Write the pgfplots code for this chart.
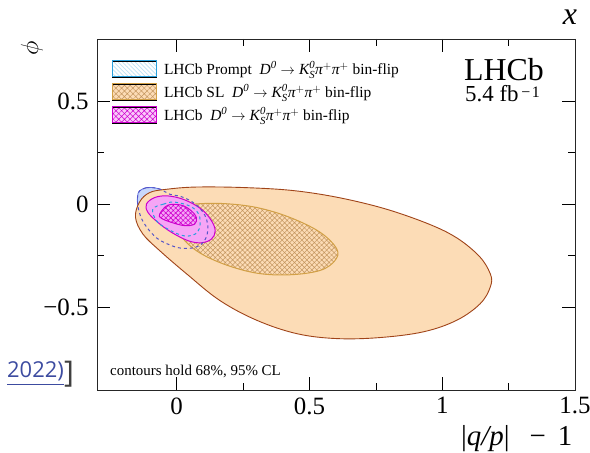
\documentclass[border=0pt]{standalone}
\usepackage{pgfplots}
\pgfplotsset{compat=1.18}
\usepackage{amsmath}
\usepackage{fontspec}
\setmainfont{Liberation Serif}
\newfontfamily\sansf{Open Sans}
\usetikzlibrary{patterns.meta}
\definecolor{peach}{RGB}{252,220,182}
\definecolor{brownb}{RGB}{160,68,25}
\definecolor{gold}{RGB}{210,160,70}
\definecolor{tanh}{RGB}{196,150,95}
\definecolor{pinkf}{RGB}{246,165,246}
\definecolor{magb}{RGB}{205,0,205}
\definecolor{bluef}{RGB}{200,215,250}
\definecolor{blueb}{RGB}{90,110,220}
\definecolor{dblue}{RGB}{85,85,200}
\definecolor{cyand}{RGB}{40,160,220}
\definecolor{linkblue}{RGB}{60,75,160}
\newcommand{\decay}{$\textit{D}^{\textit{0}}\rightarrow\textit{K}^{\textit{0}}_{\textit{S}}\textit{π}^{+}\textit{π}^{+}$}
\begin{document}
\begin{tikzpicture}
\useasboundingbox (0,0) rectangle (590bp,453bp);
\begin{axis}[
  at={(97bp,63bp)}, anchor=south west,
  scale only axis, width=478bp, height=351bp,
  xmin=-0.3, xmax=1.5, ymin=-0.9, ymax=0.8,
  xtick={0,0.5,1,1.5}, xticklabels={0,0.5,1,1.5},
  ytick={-0.5,0,0.5}, yticklabels={−0.5,0,0.5},
  minor tick num=1,
  tick align=inside,
  major tick length=13bp, minor tick length=7bp,
  tick style={black, line width=0.6bp},
  axis line style={black!85, line width=0.8bp},
  ticklabel style={font=\rmfamily\fontsize{25}{25}\selectfont},
  xticklabel style={yshift=-4bp},
  yticklabel style={xshift=-5bp},
  legend style={at={(0.031,0.942)}, anchor=north west, draw=none, fill=none,
    font=\fontsize{15.5}{16}\selectfont, row sep=4.5bp, inner sep=0pt,
    cells={anchor=west}},
]
\addlegendimage{legend image code/.code={
  \fill[white] (0bp,-8bp) rectangle (44bp,8bp);
  \fill[pattern={Lines[angle=-45,distance=3bp,line width=0.7bp]}, pattern color=cyand!30] (0bp,-8bp) rectangle (44bp,8bp);
  \draw[cyand, line width=1bp] (0bp,-8bp) rectangle (44bp,8bp);}}
\addlegendentry{\hspace{5bp}LHCb Prompt~~\decay{} bin-flip}
\addlegendimage{legend image code/.code={
  \fill[peach] (0bp,-8bp) rectangle (44bp,8bp);
  \fill[pattern={Hatch[angle=45,distance=4bp,line width=0.5bp]}, pattern color=tanh] (0bp,-8bp) rectangle (44bp,8bp);
  \draw[gold, line width=1bp] (0bp,-8bp) rectangle (44bp,8bp);}}
\addlegendentry{\hspace{5bp}LHCb SL~~\decay{} bin-flip}
\addlegendimage{legend image code/.code={
  \fill[pinkf!60] (0bp,-8bp) rectangle (44bp,8bp);
  \fill[pattern={Hatch[angle=45,distance=4bp,line width=0.5bp]}, pattern color=magb] (0bp,-8bp) rectangle (44bp,8bp);
  \draw[magb, line width=1bp] (0bp,-8bp) rectangle (44bp,8bp);}}
\addlegendentry{\hspace{5bp}LHCb~~\decay{} bin-flip}

% Prompt 95% filled
\addplot[forget plot, smooth cycle, tension=0.6, fill=bluef, draw=blueb, line width=0.8bp] coordinates {
(-0.140,0.064) (-0.114,0.080) (-0.083,0.079) (-0.057,0.070) (-0.026,0.048) (0.011,0.039) (0.049,0.019) (0.083,-0.015) (0.106,-0.053) (0.117,-0.101) (0.113,-0.155) (0.094,-0.193) (0.060,-0.212) (0.011,-0.212) (-0.034,-0.193) (-0.075,-0.164) (-0.113,-0.111) (-0.136,-0.058) (-0.147,0.000) (-0.147,0.039)};
% SL 95%
\addplot[forget plot, smooth cycle, tension=0.6, fill=peach, draw=brownb, line width=0.9bp] coordinates {
(-0.155,-0.064) (-0.140,0.010) (-0.102,0.056) (-0.039,0.072) (0.074,0.083) (0.263,0.080) (0.452,0.064) (0.640,0.024) (0.829,-0.040) (1.018,-0.136) (1.131,-0.241) (1.181,-0.337) (1.181,-0.401) (1.143,-0.482) (1.055,-0.562) (0.930,-0.618) (0.766,-0.646) (0.603,-0.651) (0.452,-0.627) (0.301,-0.562) (0.162,-0.466) (0.037,-0.337) (-0.064,-0.225) (-0.127,-0.145)};
% SL 68%
\addplot[forget plot, smooth cycle, tension=0.6, draw=none, pattern={Hatch[angle=45,distance=3.5bp,line width=0.5bp]}, pattern color=tanh] coordinates {
(0.011,-0.016) (0.062,0.000) (0.175,0.003) (0.301,-0.016) (0.426,-0.064) (0.540,-0.136) (0.603,-0.217) (0.596,-0.273) (0.540,-0.321) (0.426,-0.342) (0.301,-0.334) (0.175,-0.289) (0.074,-0.225) (0.011,-0.145) (-0.014,-0.064)};
\addplot[forget plot, smooth cycle, tension=0.6, draw=gold, line width=1bp] coordinates {
(0.011,-0.016) (0.062,0.000) (0.175,0.003) (0.301,-0.016) (0.426,-0.064) (0.540,-0.136) (0.603,-0.217) (0.596,-0.273) (0.540,-0.321) (0.426,-0.342) (0.301,-0.334) (0.175,-0.289) (0.074,-0.225) (0.011,-0.145) (-0.014,-0.064)};
% Combined 95%
\addplot[forget plot, smooth cycle, tension=0.6, fill=pinkf, draw=magb, line width=1bp] coordinates {
(-0.114,0.000) (-0.083,0.032) (-0.033,0.040) (0.030,0.021) (0.093,-0.024) (0.131,-0.080) (0.145,-0.130) (0.131,-0.169) (0.093,-0.187) (0.043,-0.177) (-0.020,-0.136) (-0.071,-0.088) (-0.108,-0.040)};
% Combined 68%
\addplot[forget plot, smooth cycle, tension=0.6, draw=none, pattern={Hatch[angle=45,distance=3.5bp,line width=0.6bp]}, pattern color=magb] coordinates {
(-0.064,-0.048) (-0.033,-0.005) (0.018,-0.005) (0.055,-0.032) (0.074,-0.064) (0.068,-0.096) (0.030,-0.104) (-0.020,-0.088) (-0.058,-0.068)};
\addplot[forget plot, smooth cycle, tension=0.6, draw=magb, line width=1bp] coordinates {
(-0.064,-0.048) (-0.033,-0.005) (0.018,-0.005) (0.055,-0.032) (0.074,-0.064) (0.068,-0.096) (0.030,-0.104) (-0.020,-0.088) (-0.058,-0.068)};
% Prompt contours dashed on top
\addplot[forget plot, smooth cycle, tension=0.6, draw=dblue, line width=1bp, dash pattern=on 3bp off 3bp] coordinates {
(-0.140,0.064) (-0.114,0.080) (-0.083,0.079) (-0.057,0.070) (-0.026,0.048) (0.011,0.039) (0.049,0.019) (0.083,-0.015) (0.106,-0.053) (0.117,-0.101) (0.113,-0.155) (0.094,-0.193) (0.060,-0.212) (0.011,-0.212) (-0.034,-0.193) (-0.075,-0.164) (-0.113,-0.111) (-0.136,-0.058) (-0.147,0.000) (-0.147,0.039)};
\addplot[forget plot, smooth cycle, tension=0.6, draw=cyand, line width=1bp, dash pattern=on 3bp off 3bp] coordinates {
(-0.090,-0.024) (-0.050,0.000) (-0.008,0.010) (0.057,-0.014) (0.087,-0.063) (0.079,-0.135) (0.030,-0.154) (-0.034,-0.120) (-0.075,-0.082)};
\end{axis}
\node[anchor=base west, font=\fontsize{32}{32}\selectfont, inner sep=0pt] at (464bp,372bp) {LHCb};
\node[anchor=base west, font=\fontsize{23}{23}\selectfont, inner sep=0pt] at (465bp,351bp) {5.4 fb\hspace{0.12em}\raisebox{0.18em}{\fontsize{16}{16}\selectfont −\hspace{0.1em}1}};
\node[anchor=base west, font=\fontsize{15}{15}\selectfont, inner sep=0pt] at (110bp,77bp) {contours hold 68\%, 95\% CL};
\node[rotate=90, font=\fontsize{33}{33}\selectfont, inner sep=0pt] at (32bp,404.5bp) {$\phi$};
\node[anchor=base west, font=\fontsize{29}{29}\selectfont, inner sep=0pt] at (461bp,8bp) {|\textit{q/p}|\hspace{20bp}−\hspace{12bp}1};
\node[anchor=base, font=\fontsize{32}{32}\selectfont\itshape, inner sep=0pt] at (570bp,428bp) {x};
\node[anchor=base east, inner sep=0pt, font=\fontsize{22}{22}\selectfont] at (64bp,75bp) {\sansf\color{linkblue}\underline{2022)}};
\node[anchor=base west, inner sep=0pt, font=\fontsize{30}{30}\selectfont] at (64bp,70bp) {\sansf\color{darkgray}]};
\end{tikzpicture}
\end{document}
